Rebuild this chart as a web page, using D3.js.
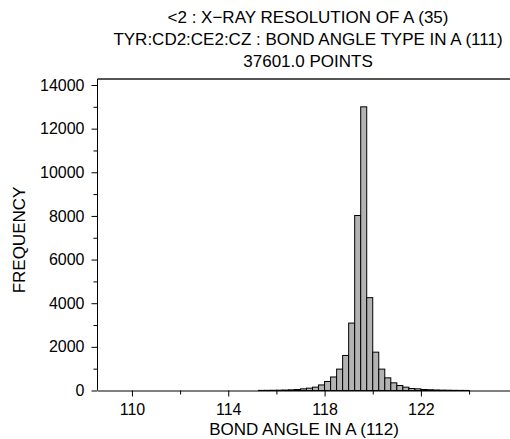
<!DOCTYPE html>
<html>
<head>
<meta charset="utf-8">
<script src="https://cdn.jsdelivr.net/npm/d3@7"></script>
<style>
  html, body { margin: 0; padding: 0; background: #fff; }
  svg { display: block; }
  text { font-family: "Liberation Sans", Arial, Helvetica, sans-serif; fill: #000; }
</style>
</head>
<body>
<svg id="chart" width="510" height="439"></svg>
<script>
// ---- data ----
const titleLines = [
  "<2 : X\u2212RAY RESOLUTION OF A (35)",
  "TYR:CD2:CE2:CZ : BOND ANGLE TYPE IN A (111)",
  "37601.0 POINTS"
];
const xLabel = "BOND ANGLE IN A (112)";
const yLabel = "FREQUENCY";
const binWidth = 0.25;
const binStarts = [115.25, 115.5, 115.75, 116.0, 116.25, 116.5, 116.75, 117.0, 117.25, 117.5, 117.75,
                   118.0, 118.25, 118.5, 118.75, 119.0, 119.25, 119.5, 119.75, 120.0, 120.25, 120.5,
                   120.75, 121.0, 121.25, 121.5, 121.75, 122.0, 122.25, 122.5, 122.75, 123.0, 123.25,
                   123.5, 123.75];
const counts = [5, 7, 10, 14, 20, 30, 46, 76, 107, 153, 255,
                413, 620, 980, 1606, 3090, 8020, 13000, 4254, 1757, 980, 580,
                352, 230, 153, 92, 76, 46, 34, 24, 16, 12, 8,
                5, 3];
const xMajorTicks = [110, 114, 118, 122];
const xMinorTicks = [112, 116, 120, 124];
const yMajorTicks = [0, 2000, 4000, 6000, 8000, 10000, 12000, 14000];
const yMinorTicks = [1000, 3000, 5000, 7000, 9000, 11000, 13000];

// ---- layout ----
const svg = d3.select("#chart");
const mLeft = 97.5, mRight = 510, mTop = 79, mBottom = 390.5;
const x = d3.scaleLinear().domain([108.57, 125.7]).range([mLeft, mRight]);
const y = d3.scaleLinear().domain([0, 14000]).range([mBottom, 85]);
const FONT = "Liberation Sans, Arial, sans-serif";

// bars
svg.append("g").selectAll("rect").data(binStarts).join("rect")
  .attr("x", (d) => x(d))
  .attr("width", (d) => x(d + binWidth) - x(d))
  .attr("y", (d, i) => y(counts[i]))
  .attr("height", (d, i) => mBottom - y(counts[i]))
  .attr("fill", "#b3b3b3")
  .attr("stroke", "#000")
  .attr("stroke-width", 1);

// top border
svg.append("line").attr("x1", mLeft).attr("x2", mRight).attr("y1", mTop).attr("y2", mTop)
  .attr("stroke", "#555").attr("stroke-width", 2);

// x axis
const xAxis = svg.append("g").attr("transform", `translate(0,${mBottom})`)
  .call(d3.axisBottom(x).tickValues(xMajorTicks).tickFormat(d3.format("d"))
    .tickSize(6).tickSizeOuter(0).tickPadding(7));
xAxis.select(".domain").attr("stroke", "#000");
xAxis.selectAll("text").attr("font-size", 16).attr("font-family", FONT);
svg.append("g").attr("transform", `translate(0,${mBottom})`)
  .call(d3.axisBottom(x).tickValues(xMinorTicks).tickSize(4).tickFormat(""))
  .select(".domain").remove();

// y axis
const yAxis = svg.append("g").attr("transform", `translate(${mLeft},0)`)
  .call(d3.axisLeft(y).tickValues(yMajorTicks).tickFormat(d3.format("d"))
    .tickSize(6).tickSizeOuter(0).tickPadding(7));
yAxis.select(".domain").attr("d", `M0,${mTop}V${mBottom}`).attr("stroke", "#000");
yAxis.selectAll("text").attr("font-size", 16).attr("font-family", FONT);
svg.append("g").attr("transform", `translate(${mLeft},0)`)
  .call(d3.axisLeft(y).tickValues(yMinorTicks).tickSize(4).tickFormat(""))
  .select(".domain").remove();

// titles
svg.append("g").selectAll("text").data(titleLines).join("text")
  .attr("x", 308).attr("y", (d, i) => 23 + i * 22)
  .attr("text-anchor", "middle").attr("font-size", 17)
  .text((d) => d);

svg.append("text").attr("x", 304).attr("y", 435)
  .attr("text-anchor", "middle").attr("font-size", 17).text(xLabel);

svg.append("text").attr("transform", "translate(25,240) rotate(-90)")
  .attr("text-anchor", "middle").attr("font-size", 17).text(yLabel);
</script>
</body>
</html>
